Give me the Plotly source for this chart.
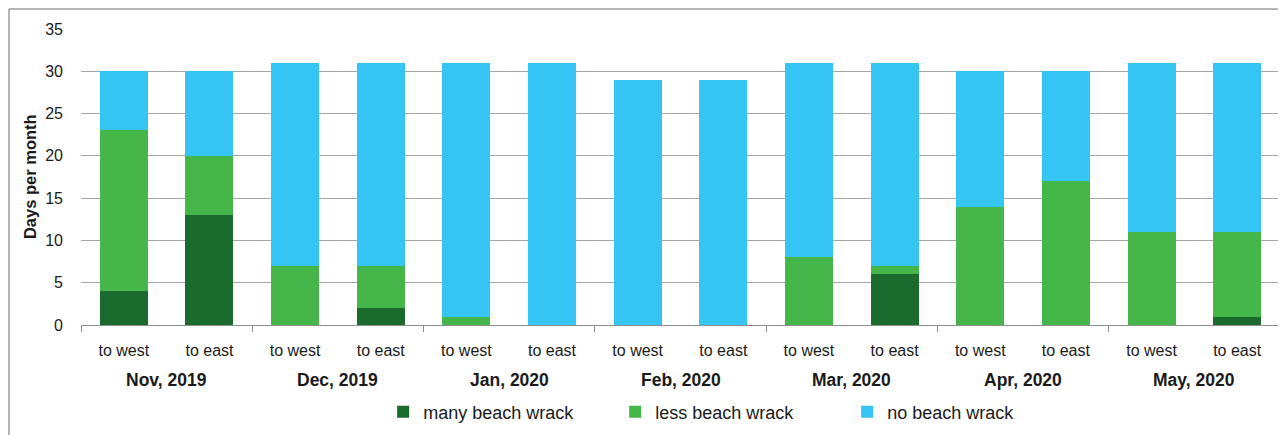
import plotly.graph_objects as go

months = ["Nov, 2019", "Dec, 2019", "Jan, 2020", "Feb, 2020", "Mar, 2020", "Apr, 2020", "May, 2020"]
directions = ["to west", "to east"]
many = [4, 13, 0, 2, 0, 0, 0, 0, 0, 6, 0, 0, 0, 1]
less = [19, 7, 7, 5, 1, 0, 0, 0, 8, 1, 14, 17, 11, 10]
nowrack = [7, 10, 24, 24, 30, 31, 29, 29, 23, 24, 16, 13, 20, 20]
series_names = ["many beach wrack", "less beach wrack", "no beach wrack"]
y_ticks = [0, 5, 10, 15, 20, 25, 30, 35]
y_title = "Days per month"

colors = ["#1a6b2d", "#45b649", "#35c5f3"]
FONT = "Liberation Sans, Arial, sans-serif"
TXT = "#1a1a1a"

xpos = list(range(len(many)))
ticktext = [d for m in months for d in directions]
n_dir = len(directions)

fig = go.Figure()
for name, vals, col in zip(series_names, [many, less, nowrack], colors):
    fig.add_trace(go.Bar(x=xpos, y=vals, name=name, width=0.56,
                         marker=dict(color=col, line=dict(width=0))))

boundaries = [i * n_dir - 0.5 for i in range(len(months) + 1)]
centers = [i * n_dir + (n_dir - 1) / 2 for i in range(len(months))]

annotations = []
for m, c in zip(months, centers):
    annotations.append(dict(x=c, xref="x", y=-0.186, yref="paper", text="<b>" + m + "</b>",
                            showarrow=False, font=dict(family=FONT, size=17.5, color=TXT),
                            xanchor="center", yanchor="middle"))
annotations.append(dict(x=-0.0425, xref="paper", y=0.5, yref="paper", text="<b>" + y_title + "</b>",
                        textangle=-90, showarrow=False, xanchor="center", yanchor="middle",
                        font=dict(family=FONT, size=16.5, color=TXT)))

fig.update_layout(
    width=1278, height=427,
    margin=dict(l=73, r=6, t=21, b=110, autoexpand=False),
    barmode="stack",
    plot_bgcolor="white", paper_bgcolor="white",
    font=dict(family=FONT, color=TXT),
    showlegend=True,
    legend=dict(orientation="h", x=0.252, xanchor="left", y=-0.294, yanchor="middle",
                font=dict(family=FONT, size=18, color=TXT),
                entrywidth=187, entrywidthmode="pixels", traceorder="normal",
                bgcolor="rgba(0,0,0,0)"),
    annotations=annotations,
    shapes=[
        dict(type="line", xref="paper", yref="paper", x0=-0.06005, x1=1.01, y0=1.0676, y1=1.0676,
             line=dict(color="#9c9c9c", width=1.5)),
        dict(type="line", xref="paper", yref="paper", x0=-0.06005, x1=-0.06005, y0=1.0676, y1=-0.4,
             line=dict(color="#9c9c9c", width=1.5)),
    ],
)

fig.update_xaxes(
    range=[-0.5, len(many) - 0.5],
    tickvals=xpos, ticktext=ticktext, ticks="",
    tickfont=dict(family=FONT, size=16, color=TXT),
    showline=True, linecolor="#8c8c8c", linewidth=1.2,
    showgrid=False, zeroline=False, automargin=False,
    minor=dict(tickvals=boundaries, ticks="outside", ticklen=6, tickcolor="#8c8c8c", tickwidth=1.2, showgrid=False),
    ticklabelstandoff=11,
)
fig.update_yaxes(
    range=[0, 35], tickvals=y_ticks,
    tickfont=dict(family=FONT, size=16, color=TXT),
    showgrid=True, gridcolor="#a6a6a6", gridwidth=1,
    zeroline=False, showline=False, ticks="", automargin=False,
    ticklabelstandoff=17,
)

fig.write_html("out.html")
